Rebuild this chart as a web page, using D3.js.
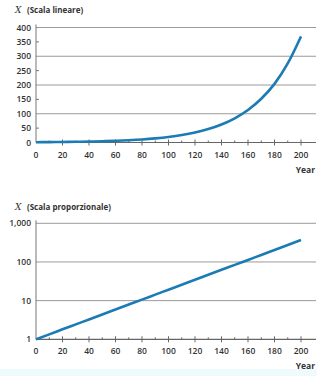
<!DOCTYPE html>
<html>
<head>
<meta charset="utf-8">
<script src="https://cdn.jsdelivr.net/npm/d3@7"></script>
<style>
  body { margin: 0; background: #ffffff; }
  svg { display: block; }
  text { font-family: "Open Sans", "Noto Sans", sans-serif; fill: #333; }
</style>
</head>
<body>
<div id="chart"></div>
<script>
// years and values (every 10 years)
const years = [0, 10, 20, 30, 40, 50, 60, 70, 80, 90, 100, 110, 120, 130, 140, 150, 160, 170, 180, 190, 200];
const values = [1, 1.34, 1.81, 2.43, 3.26, 4.38, 5.89, 7.92, 10.6, 14.3, 19.2, 25.8, 34.7, 46.6, 62.6, 84.2, 113, 152, 204, 275, 369];
const xTicks = [0, 20, 40, 60, 80, 100, 120, 140, 160, 180, 200];
const linTicks = [0, 50, 100, 150, 200, 250, 300, 350, 400];
const linGrid = [100, 200, 300, 400];
const logTicks = [1, 10, 100, 1000];
const linTitle = "(Scala lineare)";
const logTitle = "(Scala proporzionale)";

const W = 317, H = 376;
const lineColor = '#1b7bb4';
const gridColor = '#9a9a9a';

let svg = d3.select('#chart').append('svg')
    .attr('width', W)
    .attr('height', H);

// faint tinted bottom strip like in the scan
svg.append('rect').attr('x', 0).attr('y', 369).attr('width', W).attr('height', 7).attr('fill', '#eefafc');

let x = d3.scaleLinear().domain([0, 200]).range([36, 301]);

function drawPanel(yScale, top, bottom, ticks, gridVals, title, titleY, fmt, minorY) {
    let g = svg.append('g');

    // gridlines
    g.selectAll('line.grid')
        .data(gridVals)
        .enter()
        .append('line')
        .attr('x1', 36).attr('x2', 316)
        .attr('y1', d => yScale(d)).attr('y2', d => yScale(d))
        .style('stroke', gridColor)
        .style('stroke-width', 1);

    // y axis line
    g.append('line')
        .attr('x1', 36).attr('x2', 36)
        .attr('y1', top - 3).attr('y2', bottom)
        .style('stroke', '#777')
        .style('stroke-width', 1);

    // small ticks on y
    g.selectAll('line.ytick')
        .data(minorY)
        .enter()
        .append('line')
        .attr('x1', 36).attr('x2', 39)
        .attr('y1', d => yScale(d)).attr('y2', d => yScale(d))
        .style('stroke', '#777');

    // y labels
    g.selectAll('text.ylab')
        .data(ticks)
        .enter()
        .append('text')
        .attr('x', 31)
        .attr('y', d => yScale(d) + 3)
        .attr('text-anchor', 'end')
        .style('font-size', '8.5px')
        .style('font-weight', '600')
        .text(fmt);

    // x axis
    g.append('line')
        .attr('x1', 36).attr('x2', 316)
        .attr('y1', bottom).attr('y2', bottom)
        .style('stroke', '#666')
        .style('stroke-width', 1.2);

    let minor = d3.range(10, 201, 10);
    g.selectAll('line.xtick')
        .data(minor)
        .enter()
        .append('line')
        .attr('x1', d => x(d)).attr('x2', d => x(d))
        .attr('y1', d => d % 20 === 0 ? bottom - 3 : bottom - 2)
        .attr('y2', d => d % 20 === 0 ? bottom + 3 : bottom)
        .style('stroke', '#666');

    g.selectAll('text.xlab')
        .data(xTicks)
        .enter()
        .append('text')
        .attr('x', d => x(d))
        .attr('y', bottom + 15)
        .attr('text-anchor', 'middle')
        .style('font-size', '8.5px')
        .style('font-weight', '600')
        .text(d => d);

    g.append('text')
        .attr('x', 315)
        .attr('y', bottom + 30)
        .attr('text-anchor', 'end')
        .style('font-size', '8.5px')
        .style('font-weight', '700')
        .text('Year');

    g.append('text')
        .attr('x', 15)
        .attr('y', titleY)
        .style('font-size', '9px')
        .style('font-style', 'italic')
        .style('font-family', '"DejaVu Serif", serif')
        .text('X');

    g.append('text')
        .attr('x', 27)
        .attr('y', titleY)
        .style('font-size', '8px')
        .style('font-weight', '700')
        .text(title);

    let line = d3.line()
        .x((d, i) => x(years[i]))
        .y(d => yScale(d))
        .curve(d3.curveMonotoneX);

    g.append('path')
        .datum(values)
        .attr('d', line)
        .style('fill', 'none')
        .style('stroke', lineColor)
        .style('stroke-width', 2.6);
}

// linear panel
let yLin = d3.scaleLinear().domain([0, 400]).range([142.5, 27.5]);
drawPanel(yLin, 27.5, 142.5, linTicks, linGrid, linTitle, 13, d => d, [50, 150, 250, 350]);

// proportional (log) panel
let yLog = d3.scaleLog().domain([1, 1000]).range([339.3, 223.3]);
drawPanel(yLog, 223.3, 339.3, logTicks, [10, 100, 1000], logTitle, 210, d => d3.format(',')(d), []);
</script>
</body>
</html>
